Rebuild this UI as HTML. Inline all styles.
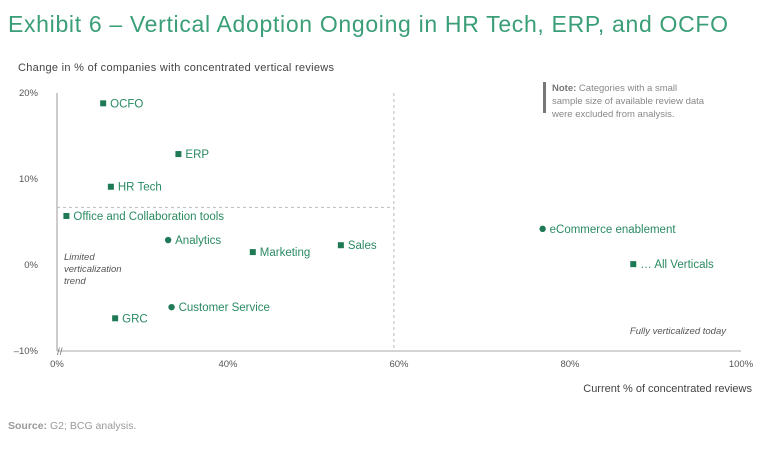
<!DOCTYPE html>
<html><head><meta charset="utf-8"><style>
body{margin:0;background:#fff;width:768px;height:455px;overflow:hidden;font-family:"Liberation Sans",sans-serif}
svg{position:absolute;left:0;top:0}
</style></head><body>
<svg width="768" height="455">
<text x="8" y="32" font-size="23" fill="#3a9e77" textLength="720" lengthAdjust="spacing">Exhibit 6 – Vertical Adoption Ongoing in HR Tech, ERP, and OCFO</text>
<text x="18" y="71" font-size="11" fill="#444" textLength="316" lengthAdjust="spacing">Change in % of companies with concentrated vertical reviews</text>
<rect x="543" y="82" width="3" height="31" fill="#777"/>
<text font-size="9.5" fill="#888"><tspan x="552" y="91"><tspan font-weight="bold" fill="#777">Note:</tspan> Categories with a small</tspan><tspan x="552" y="104">sample size of available review data</tspan><tspan x="552" y="117">were excluded from analysis.</tspan></text>
<g id="axes"></g>
<g id="marks"></g>
<text x="64" y="260" font-size="9.5" font-style="italic" fill="#555"><tspan x="64" y="260">Limited</tspan><tspan x="64" y="272">verticalization</tspan><tspan x="64" y="284">trend</tspan></text>
<text x="726" y="334" font-size="9.5" font-style="italic" fill="#555" text-anchor="end">Fully verticalized today</text>
<text x="752" y="392" font-size="11" fill="#444" text-anchor="end">Current % of concentrated reviews</text>
<text x="8" y="429" font-size="10.5" fill="#999"><tspan font-weight="bold">Source:</tspan> G2; BCG analysis.</text>
</svg>
<script>
const categories=["OCFO","ERP","HR Tech","Office and Collaboration tools","Analytics","Marketing","Sales","Customer Service","GRC","eCommerce enablement","… All Verticals"];
const xValues=[25.4,34.2,26.3,21.1,33.0,42.9,53.2,33.4,26.8,76.8,87.4];
const yValues=[18.8,12.9,9.1,5.7,2.9,1.5,2.3,-4.9,-6.2,4.2,0.1];
const shapes=["s","s","s","s","c","s","s","c","s","c","s"];
const xTicks=[20,40,60,80,100];
const xTickLabels=["0%","40%","60%","80%","100%"];
const yTicks=[20,10,0,-10];
const yTickLabels=["20%","10%","0%","–10%"];
const NS="http://www.w3.org/2000/svg";
const X=v=>57+(v-20)*8.55;
const Y=v=>265-v*8.6;
function mk(t,a,p){const e=document.createElementNS(NS,t);for(const k in a)e.setAttribute(k,a[k]);p.appendChild(e);return e;}
const ax=document.getElementById('axes'),mg=document.getElementById('marks');
let l=mk('line',{x1:57,y1:Y(20),x2:57,y2:Y(-10),stroke:'#999'},ax);


l=mk('line',{x1:57,y1:Y(-10),x2:X(100),y2:Y(-10),stroke:'#aaa'},ax);


l=mk('line',{x1:X(59.4),y1:Y(20),x2:X(59.4),y2:Y(-10),stroke:'#bbb','stroke-dasharray':'3,3'},ax);


l=mk('line',{x1:57,y1:Y(6.7),x2:X(59.4),y2:Y(6.7),stroke:'#bbb','stroke-dasharray':'3,3'},ax);


l=mk('text',{x:57,y:Y(-10)+4,'font-size':10,fill:'#777'},ax);l.textContent='//';


xTicks.forEach((v,i)=>{const t=mk('text',{x:X(v),y:367,'font-size':9.5,fill:'#555','text-anchor':'middle'},ax);t.textContent=xTickLabels[i];

});
yTicks.forEach((v,i)=>{const t=mk('text',{x:38,y:Y(v)+3,'font-size':9.5,fill:'#555','text-anchor':'end'},ax);t.textContent=yTickLabels[i];

});
categories.forEach((c,i)=>{const x=X(xValues[i]),y=Y(yValues[i]);let m;
if(shapes[i]==='s')m=mk('rect',{x:x-3,y:y-3,width:6,height:6,fill:'#1d7a55'},mg);
else m=mk('circle',{cx:x,cy:y,r:3.2,fill:'#1d7a55'},mg);


const t=mk('text',{x:x+7,y:y+4,'font-size':11.5,fill:'#2a8a62'},mg);t.textContent=c;

});
</script>
</body></html>
